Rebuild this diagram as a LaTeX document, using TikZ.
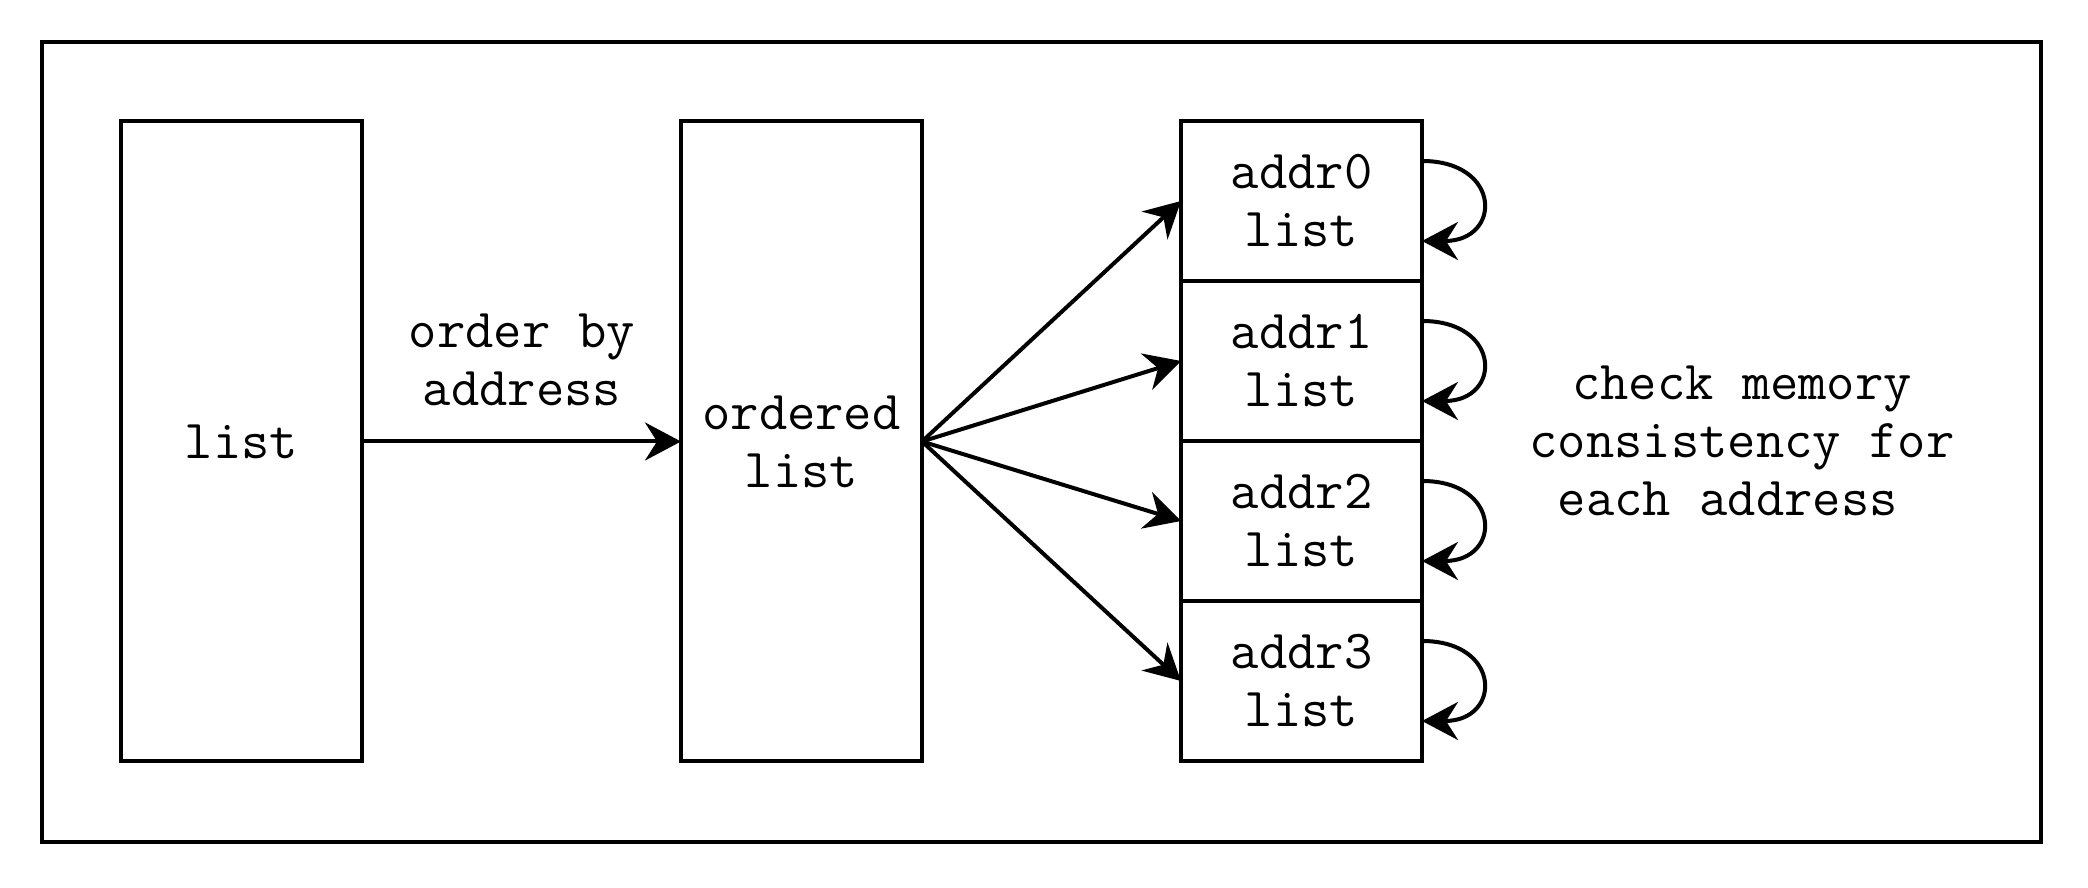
\documentclass[tikz,border=0pt]{standalone}
\usepackage{fontspec}
\usetikzlibrary{arrows.meta,positioning}
\begin{document}
\begin{tikzpicture}[x=0.5pt, y=0.5pt, line width=2pt,
		>={Stealth[length=18pt, width=19pt, inset=6pt]},
		every node/.style={font=\ttfamily\fontsize{27.5}{29}\selectfont, align=center},
		tallbox/.style={draw, minimum width=120.5pt, minimum height=320pt, inner sep=0pt, outer sep=0pt},
		addrbox/.style={draw, minimum width=120.5pt, minimum height=80pt, inner sep=0pt, outer sep=0pt}]
	\useasboundingbox (0,0) rectangle (2088,888);
	% outer frame
	\draw (42,46) rectangle (2041,846);
	% the two lists
	\node[tallbox] (list) at (241.5,446.5) {list};
	\node[tallbox] (ordered) at (801.5,446.5) {ordered\\list};
	\draw[->] (list.east) -- (ordered.west);
	\node (orderlbl) at (522,528) {order by\\address};
	% one box per address, each fed from the ordered list
	\foreach \i/\y in {0/687, 1/527, 2/367, 3/207} {
		\node[addrbox] (addr\i) at (1301.5,\y) {addr\i\\list};
		\draw[->] (ordered.east) -- (addr\i.west);
		\draw[->] ([yshift=20pt]addr\i.east) .. controls +(40pt,0) and +(40pt,0) .. ([yshift=-20pt]addr\i.east);
	}
	\node (checklbl) at (1742,447) {check memory\\consistency for\\each address\hphantom{x}};
\end{tikzpicture}
\end{document}
